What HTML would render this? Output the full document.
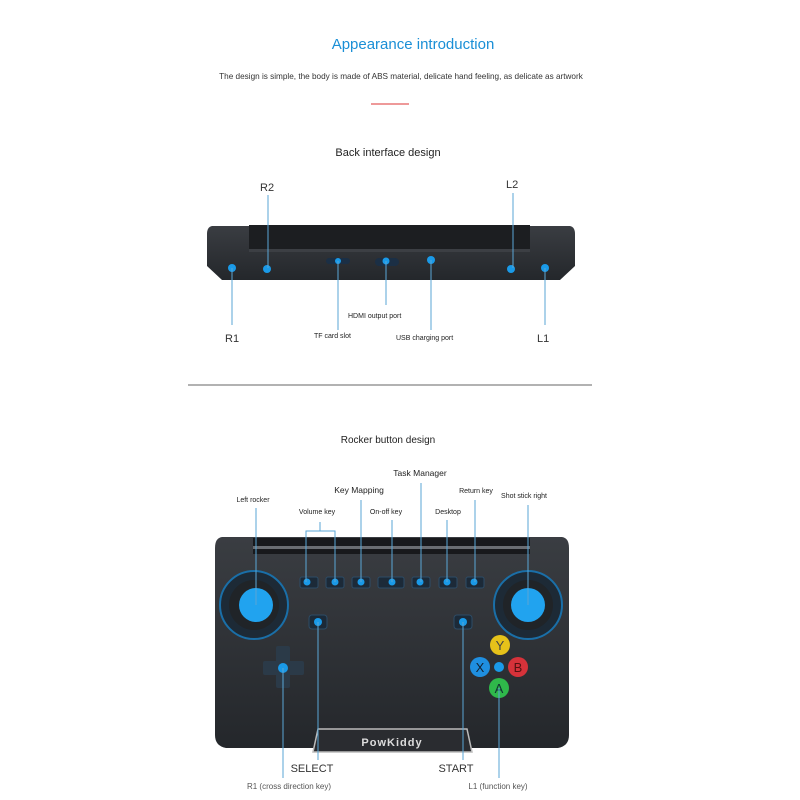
<!DOCTYPE html>
<html><head><meta charset="utf-8"><style>
html,body{margin:0;padding:0;background:#fff;width:800px;height:800px;overflow:hidden}
svg{display:block;font-family:"Liberation Sans",sans-serif}
</style></head><body>
<svg width="800" height="800" viewBox="0 0 800 800">
<linearGradient id="body" x1="0" y1="0" x2="0" y2="1"><stop offset="0" stop-color="#3a3d42"/><stop offset="1" stop-color="#24272b"/></linearGradient>
<text x="413" y="49" font-size="15" fill="#1a8fd6" text-anchor="middle">Appearance introduction</text>
<text x="401" y="79" font-size="8.2" fill="#333" text-anchor="middle">The design is simple, the body is made of ABS material, delicate hand feeling, as delicate as artwork</text>
<line x1="371" y1="104" x2="409" y2="104" stroke="#d33" stroke-width="1"/>
<text x="388" y="156" font-size="11" fill="#222" text-anchor="middle">Back interface design</text>

<path d="M212 226 L570 226 Q575 227 575 234 L575 266 L560 280 L222 280 L207 266 L207 234 Q207 227 212 226Z" fill="url(#body)"/>
<rect x="249" y="225" width="281" height="27" fill="#1c1e21"/>
<rect x="249" y="249" width="281" height="3" fill="#3c3f44"/>
<g fill="#1a9ae8">
<circle cx="232" cy="268" r="4"/><circle cx="267" cy="269" r="4"/>
<rect x="326" y="258" width="24" height="6" rx="3" fill="#1b2f45"/><circle cx="338" cy="261" r="3"/>
<rect x="375" y="258" width="24" height="8" rx="4" fill="#1b2f45"/><circle cx="386" cy="261" r="3.5"/>
<circle cx="431" cy="260" r="4"/><circle cx="511" cy="269" r="4"/><circle cx="545" cy="268" r="4"/>
</g>
<g stroke="#5aa6d6" stroke-width="1">
<line x1="268" y1="195" x2="268" y2="268"/><line x1="513" y1="193" x2="513" y2="268"/>
<line x1="232" y1="268" x2="232" y2="325"/><line x1="545" y1="268" x2="545" y2="325"/>
<line x1="338" y1="261" x2="338" y2="330"/><line x1="386" y1="261" x2="386" y2="305"/>
<line x1="431" y1="260" x2="431" y2="330"/>
</g>
<g fill="#333" font-size="11"><text x="260" y="191">R2</text><text x="506" y="188">L2</text>
<text x="225" y="342">R1</text><text x="537" y="342">L1</text></g>
<g fill="#222" font-size="7"><text x="314" y="338">TF card slot</text><text x="348" y="318">HDMI output port</text><text x="396" y="340">USB charging port</text></g>

<line x1="188" y1="385" x2="592" y2="385" stroke="#666" stroke-width="1"/>
<text x="388" y="443" font-size="10" fill="#222" text-anchor="middle">Rocker button design</text>

<path d="M222 537 L562 537 Q569 538 569 548 L569 735 Q569 746 558 748 L226 748 Q215 746 215 735 L215 548 Q215 538 222 537Z" fill="url(#body)"/>
<rect x="253" y="538" width="277" height="16" fill="#18191c"/>
<rect x="253" y="546" width="277" height="3" fill="#6a6d72"/>
<g fill="#1c2a38" stroke="#2d4c66">
<rect x="300" y="577" width="18" height="11" rx="2"/><rect x="326" y="577" width="18" height="11" rx="2"/>
<rect x="352" y="577" width="18" height="11" rx="2"/><rect x="378" y="577" width="26" height="11" rx="2"/>
<rect x="412" y="577" width="18" height="11" rx="2"/><rect x="439" y="577" width="18" height="11" rx="2"/>
<rect x="466" y="577" width="18" height="11" rx="2"/>
<rect x="309" y="615" width="18" height="14" rx="3"/><rect x="454" y="615" width="18" height="14" rx="3"/>
</g>
<g fill="#1a9ae8">
<circle cx="307" cy="582" r="3.5"/><circle cx="335" cy="582" r="3.5"/><circle cx="361" cy="582" r="3.5"/>
<circle cx="392" cy="582" r="3.5"/><circle cx="420" cy="582" r="3.5"/><circle cx="447" cy="582" r="3.5"/>
<circle cx="474" cy="582" r="3.5"/><circle cx="318" cy="622" r="4"/><circle cx="463" cy="622" r="4"/>
</g>
<circle cx="254" cy="605" r="34" fill="#1d2a36" stroke="#1a6fa8" stroke-width="2"/>
<circle cx="254" cy="605" r="25" fill="#202428"/>
<circle cx="256" cy="605" r="17" fill="#21a3ef"/>
<circle cx="528" cy="605" r="34" fill="#1d2a36" stroke="#1a6fa8" stroke-width="2"/>
<circle cx="528" cy="605" r="25" fill="#202428"/>
<circle cx="528" cy="605" r="17" fill="#21a3ef"/>
<g fill="#2b3a48"><rect x="263" y="661" width="41" height="14" rx="2"/><rect x="276" y="646" width="14" height="42" rx="2"/></g>
<circle cx="283" cy="668" r="5" fill="#1a9ae8"/>
<circle cx="500" cy="645" r="10" fill="#e6c21a"/><text x="500" y="650" font-size="13" fill="#444" text-anchor="middle">Y</text>
<circle cx="480" cy="667" r="10" fill="#1f8fe0"/><text x="480" y="672" font-size="13" fill="#123" text-anchor="middle">X</text>
<circle cx="518" cy="667" r="10" fill="#d6323a"/><text x="518" y="672" font-size="13" fill="#511" text-anchor="middle">B</text>
<circle cx="499" cy="688" r="10" fill="#2fb84a"/><text x="499" y="693" font-size="13" fill="#133" text-anchor="middle">A</text>
<circle cx="499" cy="667" r="5" fill="#1a9ae8"/>
<path d="M318 729 L467 729 L472 752 L313 752Z" fill="#2a2c30" stroke="#bbb" stroke-width="1.5"/>
<text x="392" y="746" font-size="11" font-weight="bold" fill="#ddd" text-anchor="middle" letter-spacing="1">PowKiddy</text>
<g stroke="#5aa6d6" stroke-width="1" fill="none">
<line x1="256" y1="508" x2="256" y2="605"/>
<path d="M306 582 L306 531 L335 531 L335 582 M320 531 L320 522"/>
<line x1="361" y1="500" x2="361" y2="582"/><line x1="392" y1="520" x2="392" y2="582"/>
<line x1="421" y1="483" x2="421" y2="582"/><line x1="447" y1="520" x2="447" y2="582"/>
<line x1="475" y1="500" x2="475" y2="582"/><line x1="528" y1="505" x2="528" y2="605"/>
<line x1="318" y1="622" x2="318" y2="760"/><line x1="463" y1="622" x2="463" y2="760"/>
<line x1="283" y1="668" x2="283" y2="778"/><line x1="499" y1="688" x2="499" y2="778"/>
</g>
<g fill="#222" font-size="7" text-anchor="middle">
<text x="253" y="502">Left rocker</text><text x="317" y="514">Volume key</text><text x="386" y="514">On-off key</text>
<text x="448" y="514">Desktop</text><text x="476" y="493">Return key</text><text x="524" y="498">Shot stick right</text>
</g>
<g fill="#222" font-size="8.5" text-anchor="middle"><text x="359" y="493">Key Mapping</text><text x="420" y="476">Task Manager</text></g>
<g fill="#333" font-size="11" text-anchor="middle"><text x="312" y="772">SELECT</text><text x="456" y="772">START</text></g>
<g fill="#555" font-size="8" text-anchor="middle"><text x="289" y="789">R1 (cross direction key)</text><text x="498" y="789">L1 (function key)</text></g>
</svg>
</body></html>
